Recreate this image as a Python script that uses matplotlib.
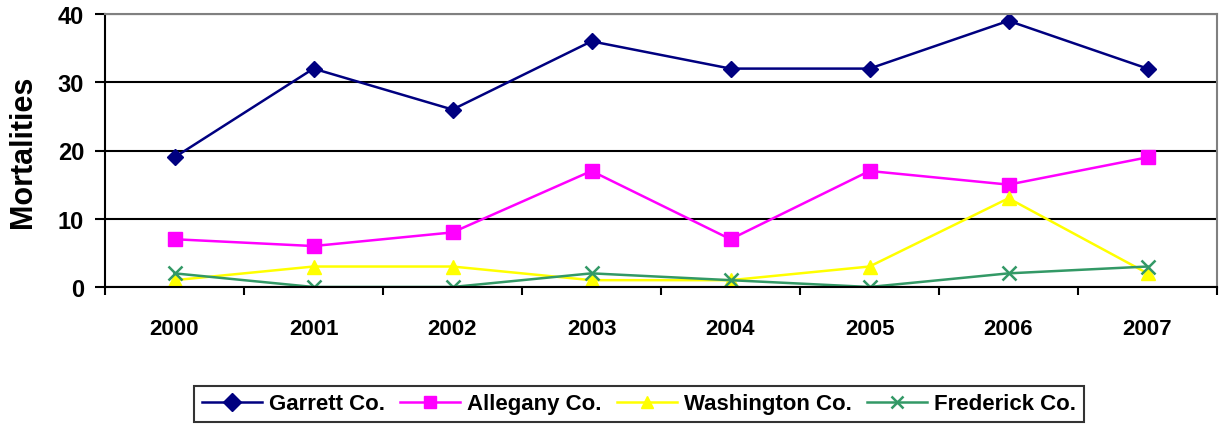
import matplotlib
matplotlib.use("Agg")
import matplotlib.pyplot as plt

years = ["2000", "2001", "2002", "2003", "2004", "2005", "2006", "2007"]
garrett = [19, 32, 26, 36, 32, 32, 39, 32]
allegany = [7, 6, 8, 17, 7, 17, 15, 19]
washington = [1, 3, 3, 1, 1, 3, 13, 2]
frederick = [2, 0, 0, 2, 1, 0, 2, 3]

plt.rcParams['font.family'] = ['Liberation Sans', 'DejaVu Sans']
plt.rcParams['font.weight'] = 'bold'

fig = plt.figure(figsize=(12.22, 4.27), dpi=100)
ax = fig.add_axes([105/1222, 1 - 288/427, 1112/1222, 273/427])

x = list(range(len(years)))
ax.plot(x, garrett, color='#000080', marker='D', markersize=8, lw=1.8, label='Garrett Co.')
ax.plot(x, allegany, color='#FF00FF', marker='s', markersize=10, lw=1.8, label='Allegany Co.')
ax.plot(x, washington, color='#FFFF00', marker='^', markersize=10, lw=1.8, label='Washington Co.')
ax.plot(x, frederick, color='#339966', marker='x', markersize=10, mew=1.8, lw=1.8, label='Frederick Co.')

ax.set_xlim(-0.5, len(years) - 0.5)
ax.set_ylim(0, 40)
ax.set_yticks([0, 10, 20, 30, 40])
ax.set_xticks(x)
ax.set_xticklabels(years)
ax.set_xticks([i - 0.5 for i in range(len(years) + 1)], minor=True)
ax.tick_params(axis='x', which='major', length=0, pad=22, labelsize=16)
ax.tick_params(axis='x', which='minor', length=6, width=1.5, direction='out')
ax.tick_params(axis='y', length=7, width=1.5, direction='out', labelsize=17, pad=8)
for lab in ax.get_xticklabels() + ax.get_yticklabels():
    lab.set_fontweight('bold')

ax.grid(axis='y', color='black', lw=1.5)
ax.set_axisbelow(True)
ax.spines['left'].set_linewidth(1.5)
ax.spines['bottom'].set_linewidth(1.5)
ax.spines['top'].set_color('#808080')
ax.spines['right'].set_color('#808080')
ax.spines['top'].set_linewidth(1.5)
ax.spines['right'].set_linewidth(1.5)

ax.set_ylabel('Mortalities', fontsize=22, fontweight='bold', labelpad=14)

leg = fig.legend(loc='center', bbox_to_anchor=(639/1222, 1 - 405/427), ncol=4,
                 frameon=True, fancybox=False, edgecolor='black',
                 handlelength=2.7, handletextpad=0.3, columnspacing=0.7,
                 borderpad=0.35, borderaxespad=0, prop={'weight': 'bold', 'size': 16})
leg.get_frame().set_linewidth(1.5)
for h in leg.legend_handles:
    h.set_markersize(9)

fig.savefig('out.png', dpi=100)
